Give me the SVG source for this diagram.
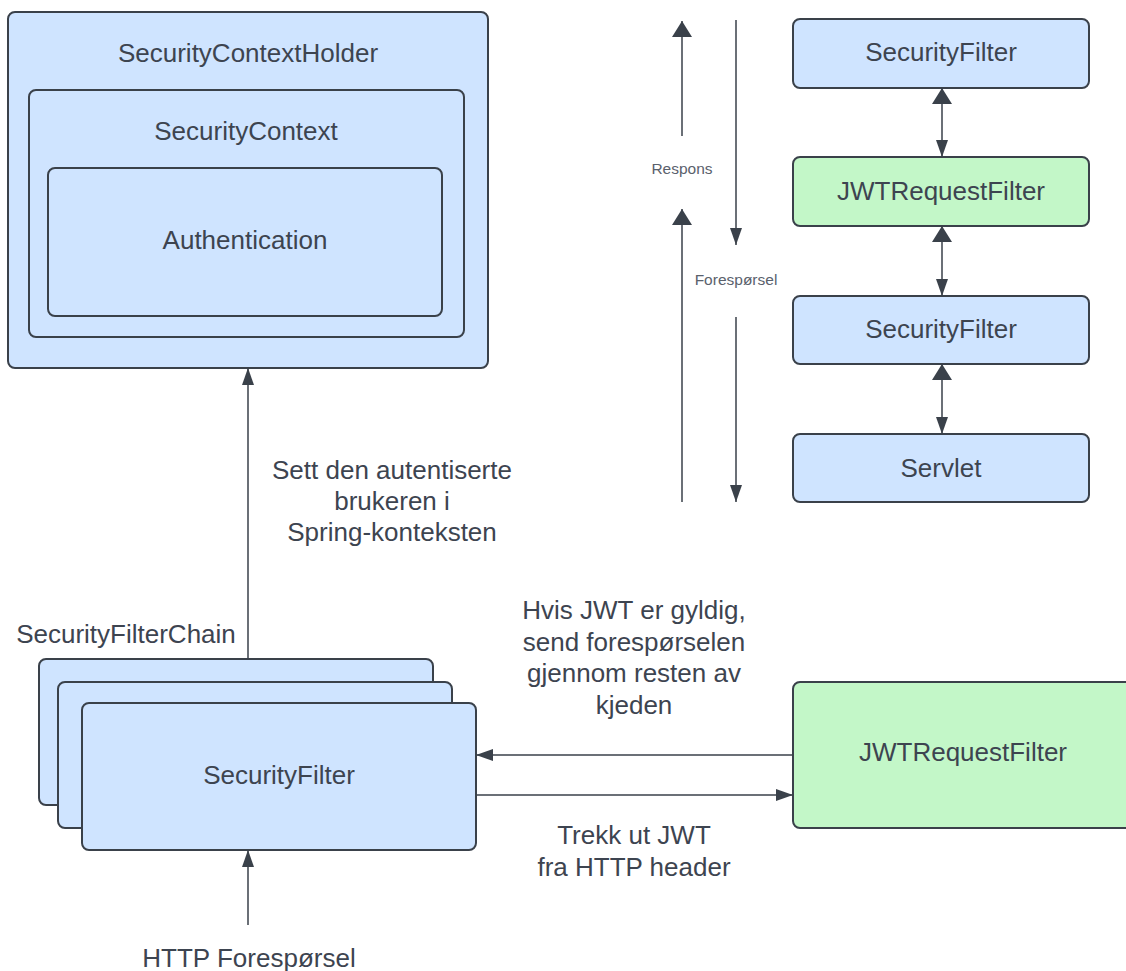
<svg xmlns="http://www.w3.org/2000/svg" width="1126" height="971" viewBox="0 0 1126 971">
  <style>
    .box { fill: #cfe4ff; stroke: #3a414a; stroke-width: 2; }
    .green { fill: #c3f7c8; stroke: #3a414a; stroke-width: 2; }
    .lbl { font-family: "Liberation Sans", Arial, sans-serif; font-size: 26px; fill: #3d4450; text-anchor: middle; }
    .small { font-family: "Liberation Sans", Arial, sans-serif; font-size: 15.5px; fill: #5a616c; text-anchor: middle; }
    .conn { stroke: #3a414a; stroke-width: 1.5; fill: none; }
  </style>
  <defs>
    <marker id="head" markerUnits="userSpaceOnUse" markerWidth="18" markerHeight="13" refX="17" refY="6" orient="auto">
      <path d="M0,0 L17,6 L0,12 z" fill="#3a414a"/>
    </marker>
    <marker id="headWide" markerUnits="userSpaceOnUse" markerWidth="17" markerHeight="21" refX="16" refY="10" orient="auto">
      <path d="M0,0 L16,10 L0,20 z" fill="#3a414a"/>
    </marker>
    <marker id="headWideStart" markerUnits="userSpaceOnUse" markerWidth="17" markerHeight="21" refX="16" refY="10" orient="auto-start-reverse">
      <path d="M0,0 L16,10 L0,20 z" fill="#3a414a"/>
    </marker>
  </defs>

  <!-- Context holder nesting -->
  <g id="security-context-holder">
    <rect class="box" x="8" y="12" width="480" height="356" rx="7"/>
    <text class="lbl" x="248" y="61.5">SecurityContextHolder</text>
  </g>
  <g id="security-context">
    <rect class="box" x="29" y="90" width="435" height="247" rx="7"/>
    <text class="lbl" x="246" y="139.5">SecurityContext</text>
  </g>
  <g id="authentication">
    <rect class="box" x="48" y="168" width="394" height="148" rx="7"/>
    <text class="lbl" x="245" y="248.5">Authentication</text>
  </g>

  <!-- Filter chain stack -->
  <g id="security-filter-chain">
    <text class="lbl" x="126" y="643">SecurityFilterChain</text>
    <rect class="box" x="39" y="659" width="394" height="146" rx="7"/>
    <rect class="box" x="58" y="682" width="394" height="146" rx="7"/>
  </g>
  <g id="security-filter">
    <rect class="box" x="82" y="703" width="394" height="147" rx="7"/>
    <text class="lbl" x="279" y="784">SecurityFilter</text>
  </g>

  <g id="jwt-request-filter">
    <rect class="green" x="793" y="682" width="350" height="146" rx="7"/>
    <text class="lbl" x="963" y="761">JWTRequestFilter</text>
  </g>

  <!-- Filter order column -->
  <g id="chain-security-filter-1">
    <rect class="box" x="793" y="19" width="296" height="69" rx="7"/>
    <text class="lbl" x="941" y="61">SecurityFilter</text>
  </g>
  <g id="chain-jwt-request-filter">
    <rect class="green" x="793" y="157" width="296" height="69" rx="7"/>
    <text class="lbl" x="941" y="199.5">JWTRequestFilter</text>
  </g>
  <g id="chain-security-filter-2">
    <rect class="box" x="793" y="296" width="296" height="68" rx="7"/>
    <text class="lbl" x="941" y="338">SecurityFilter</text>
  </g>
  <g id="chain-servlet">
    <rect class="box" x="793" y="434" width="296" height="68" rx="7"/>
    <text class="lbl" x="941" y="476.5">Servlet</text>
  </g>

  <g id="connectors">
    <!-- set authenticated user -->
    <line class="conn" x1="248" y1="659" x2="248" y2="368" marker-end="url(#head)"/>
    <!-- incoming HTTP request -->
    <line class="conn" x1="248" y1="925" x2="248" y2="850" marker-end="url(#head)"/>
    <!-- JWT filter back to security filter -->
    <line class="conn" x1="793" y1="755" x2="476" y2="755" marker-end="url(#head)"/>
    <!-- security filter to JWT filter -->
    <line class="conn" x1="476" y1="795" x2="793" y2="795" marker-end="url(#head)"/>

    <!-- chain links -->
    <line class="conn" x1="942" y1="88" x2="942" y2="157" marker-start="url(#headWideStart)" marker-end="url(#head)"/>
    <line class="conn" x1="942" y1="226" x2="942" y2="296" marker-start="url(#headWideStart)" marker-end="url(#head)"/>
    <line class="conn" x1="942" y1="364" x2="942" y2="434" marker-start="url(#headWideStart)" marker-end="url(#head)"/>

    <!-- response / request direction -->
    <line class="conn" x1="682" y1="136" x2="682" y2="21" marker-end="url(#headWide)"/>
    <line class="conn" x1="682" y1="502" x2="682" y2="209" marker-end="url(#headWide)"/>
    <line class="conn" x1="736" y1="20" x2="736" y2="245" marker-end="url(#head)"/>
    <line class="conn" x1="736" y1="317" x2="736" y2="502" marker-end="url(#head)"/>
  </g>

  <g id="connector-labels">
    <text class="lbl" x="392" y="479">Sett den autentiserte</text>
    <text class="lbl" x="392" y="510">brukeren i</text>
    <text class="lbl" x="392" y="541">Spring-konteksten</text>

    <text class="lbl" x="634" y="619">Hvis JWT er gyldig,</text>
    <text class="lbl" x="634" y="650.5">send forespørselen</text>
    <text class="lbl" x="634" y="682">gjennom resten av</text>
    <text class="lbl" x="634" y="713.5">kjeden</text>

    <text class="lbl" x="634" y="844">Trekk ut JWT</text>
    <text class="lbl" x="634" y="875.5">fra HTTP header</text>

    <text class="lbl" x="249" y="967">HTTP Forespørsel</text>

    <text class="small" x="682" y="174">Respons</text>
    <text class="small" x="736" y="285">Forespørsel</text>
  </g>
</svg>
